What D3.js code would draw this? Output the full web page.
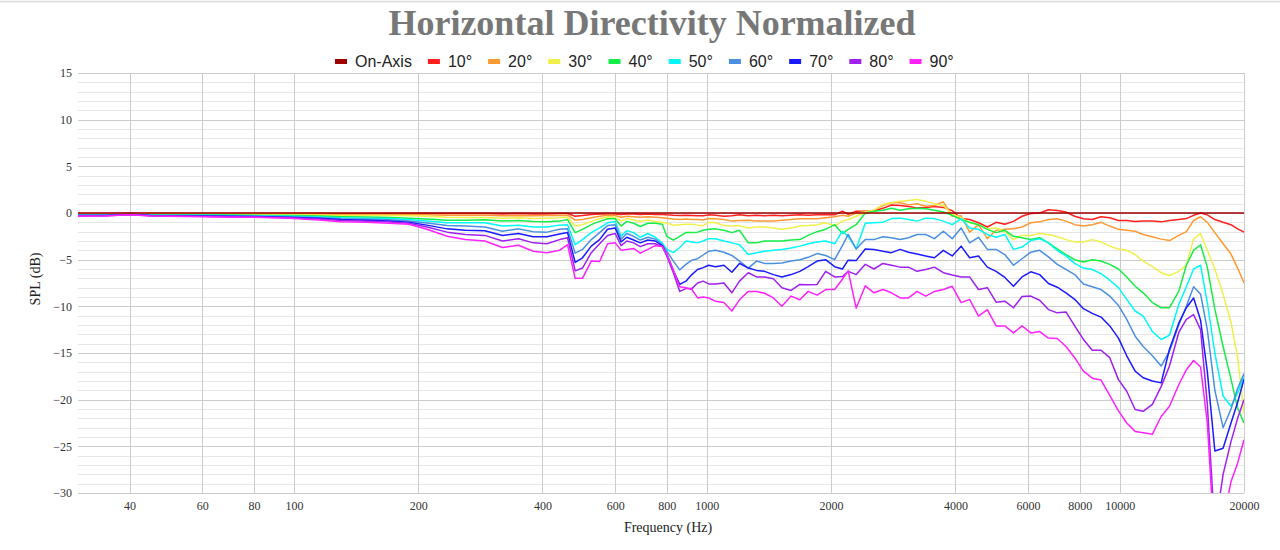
<!DOCTYPE html>
<html><head><meta charset="utf-8">
<script src="https://cdn.jsdelivr.net/npm/d3@7"></script>
<style>body{margin:0;background:#fff;} svg{display:block}</style>
</head><body>
<svg id="c" width="1280" height="550"></svg>
<script>
const freqs = [30,35,40,45,50,60,70,80,90,100,
115,130,150,170,190,210,235,260,290,320,
350,380,410,440,460,480,500,525,550,575,
600,620,640,665,690,720,750,780,800,830,
860,890,920,950,980,1010,1050,1100,1150,1200,
1260,1320,1380,1450,1520,1600,1680,1760,1850,1940,
2040,2130,2200,2300,2420,2540,2670,2800,2940,3080,
3230,3390,3560,3740,3930,4130,4330,4550,4780,5020,
5270,5530,5800,6090,6400,6720,7060,7410,7780,8170,
8580,9010,9460,9930,10400,10900,11400,12000,12600,13200,
13900,14500,15100,15700,16300,17000,17800,18600,19300,20000];

const onAxis = [0,0,0,0,0,0,0,0,0,0,
0,0,0,0,0,0,0,0,0,0,
0,0,0,0,0,0,0,0,0,0,
0,0,0,0,0,0,0,0,0,0,
0,0,0,0,0,0,0,0,0,0,
0,0,0,0,0,0,0,0,0,0,
0,0,0,0,0,0,0,0,0,0,
0,0,0,0,0,0,0,0,0,0,
0,0,0,0,0,0,0,0,0,0,
0,0,0,0,0,0,0,0,0,0,
0,0,0,0,0,0,0,0,0,0];

const deg10 = [-0.05,-0.05,-0.02,-0.05,-0.05,-0.05,-0.05,-0.05,-0.05,-0.05,
-0.06,-0.09,-0.05,-0.05,-0.05,-0.05,-0.05,-0.05,-0.05,-0.1,
-0.05,-0.1,-0.1,-0.05,-0.05,-0.35,-0.27,-0.15,-0.12,-0.1,
-0.1,-0.15,-0.1,-0.12,-0.15,-0.12,-0.15,-0.15,-0.2,-0.25,
-0.27,-0.25,-0.27,-0.3,-0.3,-0.2,-0.25,-0.35,-0.3,-0.2,
-0.3,-0.25,-0.3,-0.25,-0.3,-0.25,-0.2,-0.25,-0.2,-0.15,
-0.2,0.2,-0.15,0.2,0.2,0.25,0.5,0.85,0.8,0.7,
0.55,0.6,0.7,0.6,0.25,-0.6,-0.7,-1.05,-1.5,-1.0,
-1.2,-0.9,-0.35,-0.05,0,0.35,0.27,0.1,-0.35,-0.62,
-0.7,-0.4,-0.5,-0.8,-0.8,-0.9,-0.85,-0.87,-0.95,-0.8,
-0.7,-0.6,-0.25,0,-0.2,-0.7,-1.0,-1.25,-1.7,-2.05];

const deg20 = [-0.1,-0.1,-0.05,-0.1,-0.1,-0.1,-0.1,-0.1,-0.1,-0.12,
-0.13,-0.16,-0.15,-0.15,-0.17,-0.2,-0.23,-0.23,-0.23,-0.3,
-0.27,-0.3,-0.27,-0.27,-0.23,-0.75,-0.7,-0.5,-0.35,-0.23,
-0.27,-0.45,-0.35,-0.4,-0.45,-0.4,-0.45,-0.5,-0.55,-0.65,
-0.7,-0.65,-0.7,-0.7,-0.75,-0.6,-0.62,-0.7,-0.87,-0.8,
-0.77,-0.85,-0.87,-0.85,-0.77,-0.7,-0.62,-0.62,-0.62,-0.5,
-0.4,-0.23,-0.35,0,0.2,0.3,0.8,1.1,1.1,0.87,
1.0,0.73,0.8,1.2,-0.35,-0.3,-2.05,-1.25,-2.75,-1.85,
-1.75,-1.7,-1.5,-1.05,-0.95,-0.7,-0.62,-0.87,-1.25,-1.4,
-1.25,-1.0,-1.4,-1.75,-1.85,-1.95,-2.3,-2.55,-2.8,-2.95,
-2.4,-2.0,-0.8,-0.4,-1.0,-2.1,-3.3,-4.4,-5.9,-7.5];

const deg30 = [-0.15,-0.15,-0.08,-0.15,-0.15,-0.15,-0.15,-0.17,-0.18,-0.2,
-0.22,-0.27,-0.26,-0.27,-0.3,-0.35,-0.45,-0.48,-0.48,-0.55,
-0.52,-0.6,-0.55,-0.52,-0.45,-1.4,-1.25,-0.9,-0.62,-0.4,
-0.45,-0.85,-0.6,-0.75,-0.9,-0.75,-0.9,-1.0,-1.1,-1.3,
-1.25,-1.2,-1.2,-1.3,-1.35,-1.0,-1.05,-1.35,-1.4,-1.35,
-1.6,-1.5,-1.5,-1.6,-1.75,-1.6,-1.4,-1.35,-1.25,-1.05,
-1.4,-0.87,-0.7,-0.35,0.1,0.3,0.9,1.1,1.27,1.35,
1.45,1.27,1.0,0.8,-0.1,-0.5,-1.05,-1.25,-1.7,-1.6,
-1.95,-2.85,-2.4,-2.4,-2.2,-2.3,-2.55,-2.85,-3.1,-3.1,
-2.85,-3.1,-3.55,-3.85,-4.0,-4.45,-5.15,-5.75,-6.4,-6.7,
-6.25,-5.6,-2.8,-2.2,-4.0,-6.0,-8.7,-11.7,-15.5,-21.5];

const deg40 = [-0.2,-0.2,-0.1,-0.2,-0.2,-0.2,-0.22,-0.25,-0.27,-0.28,
-0.33,-0.4,-0.43,-0.47,-0.55,-0.65,-0.77,-0.77,-0.72,-0.87,
-0.8,-0.9,-0.95,-0.87,-0.7,-2.1,-1.75,-1.25,-0.9,-0.62,
-0.62,-1.4,-0.9,-1.1,-1.45,-1.1,-1.1,-1.2,-2.5,-2.9,
-2.5,-2.1,-2.1,-2.05,-1.85,-1.75,-1.7,-1.85,-2.1,-1.85,
-3.2,-3.2,-3.0,-3.0,-3.0,-2.9,-2.85,-2.4,-2.0,-1.75,
-1.25,-2.2,-1.75,-1.25,0,0.2,0.3,0.5,0.3,0.45,
0.5,0.45,0.3,0.1,-0.25,-0.7,-1.0,-1.25,-1.75,-2.1,
-1.85,-2.5,-2.65,-2.85,-2.65,-3.2,-3.85,-4.45,-5.0,-5.25,
-5.0,-5.15,-5.5,-6.0,-6.85,-7.85,-8.55,-9.6,-10.15,-10.15,
-8.4,-5.6,-4.0,-3.4,-5.8,-10.3,-14.3,-17.8,-20.9,-22.5];

const deg50 = [-0.22,-0.22,-0.12,-0.22,-0.25,-0.25,-0.28,-0.3,-0.33,-0.36,
-0.42,-0.52,-0.55,-0.6,-0.7,-0.86,-1.05,-1.05,-1.05,-1.4,
-1.3,-1.5,-1.5,-1.3,-1.25,-3.4,-2.85,-2.1,-1.6,-1.05,
-0.9,-2.5,-1.9,-2.1,-2.6,-2.2,-2.6,-3.2,-3.9,-4.25,
-3.7,-3.0,-3.1,-3.2,-3.0,-2.75,-2.75,-3.0,-3.2,-3.4,
-4.45,-4.25,-4.1,-4.0,-3.9,-3.75,-3.55,-3.3,-3.1,-3.0,
-3.3,-1.95,-2.5,-3.85,-1.1,-1.05,-1.0,-0.6,-0.55,-0.7,
-0.87,-0.55,-0.6,-0.87,-1.25,-0.6,-1.6,-1.75,-2.3,-2.6,
-2.3,-3.9,-3.65,-2.95,-2.75,-3.2,-4.0,-4.6,-5.4,-5.9,
-6.05,-6.5,-7.2,-8.0,-9.25,-10.5,-11.05,-12.7,-13.55,-13.1,
-9.8,-7.9,-6.0,-5.6,-9.6,-15.0,-19.6,-20.7,-19.3,-17.5];

const deg60 = [-0.25,-0.25,-0.14,-0.25,-0.27,-0.3,-0.32,-0.35,-0.38,-0.42,
-0.5,-0.62,-0.66,-0.73,-0.85,-1.08,-1.35,-1.4,-1.5,-1.95,
-1.7,-2.0,-2.05,-1.75,-1.7,-4.3,-3.9,-2.85,-2.1,-1.35,
-1.25,-2.8,-2.2,-2.5,-2.9,-2.6,-2.8,-3.4,-4.1,-5.15,
-6.1,-5.5,-5.05,-4.9,-4.5,-4.1,-4.0,-4.2,-4.55,-5.15,
-5.9,-5.15,-5.4,-5.4,-5.35,-5.15,-5.0,-4.75,-4.35,-4.55,
-5.0,-3.5,-2.3,-3.85,-2.85,-2.85,-2.55,-2.65,-2.85,-2.65,
-2.3,-2.3,-2.75,-1.95,-2.75,-1.6,-3.2,-2.6,-3.9,-3.9,
-4.45,-5.6,-4.9,-4.2,-4.0,-4.7,-5.5,-6.05,-6.6,-7.6,
-7.9,-8.2,-8.9,-9.9,-11.4,-13.2,-14.3,-15.3,-16.4,-14.8,
-12.0,-10.0,-7.9,-8.7,-12.5,-19.0,-23.0,-21.0,-18.8,-17.2];

const deg70 = [-0.28,-0.28,-0.15,-0.27,-0.3,-0.33,-0.36,-0.38,-0.43,-0.47,
-0.57,-0.7,-0.78,-0.85,-0.98,-1.3,-1.7,-1.85,-1.9,-2.4,
-2.2,-2.55,-2.55,-2.25,-2.1,-5.3,-4.8,-3.55,-2.85,-1.75,
-1.6,-3.1,-2.6,-2.9,-3.2,-2.9,-3.0,-3.5,-4.45,-6.2,
-7.65,-7.3,-6.6,-6.05,-5.85,-5.6,-5.75,-5.6,-6.35,-5.4,
-5.9,-6.15,-6.25,-6.6,-6.85,-6.6,-6.25,-5.75,-5.15,-5.0,
-5.75,-6.0,-5.05,-5.1,-3.85,-3.9,-4.1,-4.25,-3.9,-4.2,
-4.4,-4.6,-4.8,-4.0,-4.6,-3.55,-4.8,-4.6,-5.8,-6.25,
-6.9,-7.85,-6.85,-6.3,-6.6,-7.55,-7.95,-8.55,-9.25,-10.25,
-10.75,-11.15,-12.1,-13.4,-15.3,-16.95,-17.65,-18.0,-18.2,-14.6,
-11.8,-10.15,-9.1,-11.5,-17.0,-25.5,-25.2,-22.5,-20.3,-17.8];

const deg80 = [-0.3,-0.3,-0.17,-0.3,-0.33,-0.36,-0.4,-0.42,-0.48,-0.53,
-0.65,-0.8,-0.88,-0.97,-1.1,-1.5,-2.05,-2.3,-2.4,-3.0,
-2.75,-3.2,-3.3,-2.85,-2.65,-6.2,-5.9,-4.25,-3.3,-2.4,
-2.2,-3.5,-3.0,-3.2,-3.6,-3.3,-3.3,-3.6,-4.6,-6.4,
-8.4,-8.1,-8.1,-7.5,-7.3,-7.6,-7.6,-7.5,-8.55,-7.3,
-6.4,-6.85,-6.85,-7.05,-8.0,-8.3,-7.65,-7.7,-7.65,-6.25,
-6.85,-6.8,-6.25,-6.6,-5.5,-6.0,-5.4,-5.6,-5.8,-5.8,
-6.25,-6.05,-5.8,-6.4,-6.65,-6.85,-6.85,-8.2,-8.0,-9.55,
-9.45,-10.15,-8.95,-8.9,-9.35,-10.35,-10.7,-10.6,-12.1,-13.55,
-14.7,-14.7,-15.5,-17.85,-19.1,-21.05,-21.25,-20.5,-18.6,-16.4,
-12.8,-11.4,-10.9,-12.5,-20.5,-34,-28,-24.5,-22,-20];

const deg90 = [-0.35,-0.33,-0.2,-0.33,-0.36,-0.4,-0.45,-0.46,-0.52,-0.6,
-0.75,-0.95,-1.0,-1.1,-1.2,-1.75,-2.5,-2.85,-3.0,-3.7,
-3.45,-4.1,-4.25,-4.0,-3.4,-7.0,-7.0,-5.15,-5.2,-3.3,
-3.2,-4.0,-3.9,-3.8,-4.3,-3.9,-3.5,-3.6,-4.4,-6.1,
-7.9,-8.0,-8.2,-9.1,-9.0,-9.1,-9.45,-9.6,-10.5,-9.3,
-8.4,-8.4,-8.6,-9.1,-10.0,-8.9,-9.3,-8.4,-8.8,-8.2,
-8.2,-7.1,-6.2,-10.2,-7.8,-8.55,-8.2,-8.55,-9.1,-9.1,
-8.4,-8.9,-8.4,-8.2,-7.85,-9.6,-9.25,-11.05,-10.35,-12.1,
-12.1,-12.85,-12.1,-12.85,-12.7,-13.4,-13.45,-14.3,-15.5,-16.95,
-17.7,-17.9,-19.55,-21.2,-22.5,-23.4,-23.55,-23.7,-21.8,-20.7,
-18.4,-16.8,-15.8,-16.5,-22.5,-36,-33,-28.8,-26.8,-24.3];

const seriesNames = ["On-Axis","10°","20°","30°","40°","50°","60°","70°","80°","90°"];
const seriesColors = ["#a00000","#ff1f1f","#ff9933","#f0f04a","#14ee46","#00f8f8","#4a8fe0","#1a1aff","#a020f0","#ff22ff"];
const seriesValues = [onAxis,deg10,deg20,deg30,deg40,deg50,deg60,deg70,deg80,deg90];
const xTicks = [40,60,80,100,200,400,600,800,1000,2000,4000,6000,8000,10000,20000];
const yTicks = [15,10,5,0,-5,-10,-15,-20,-25,-30];
const yMinor = d3.range(-30,16,1);

const svg = d3.select("#c");
const L=78, R=1244, T=73, B=493;
const x = d3.scaleLog().domain([30,20000]).range([L,R]);
const y = d3.scaleLinear().domain([-30,15]).range([B,T]);

svg.append("line").attr("x1",0).attr("x2",1280).attr("y1",1.5).attr("y2",1.5)
  .attr("stroke","#dcdcdc").attr("stroke-width",1.5);

// gridlines
const g = svg.append("g");
g.selectAll("line.hm").data(yMinor).join("line")
  .attr("x1",L).attr("x2",R)
  .attr("y1",d=>Math.round(y(d))+0.5).attr("y2",d=>Math.round(y(d))+0.5)
  .attr("stroke",d=> d%5===0 ? "#cccccc" : "#e6e6e6").attr("stroke-width",1);
g.selectAll("line.v").data(xTicks).join("line")
  .attr("x1",d=>Math.round(x(d))+0.5).attr("x2",d=>Math.round(x(d))+0.5)
  .attr("y1",T).attr("y2",B).attr("stroke","#cccccc").attr("stroke-width",1);

// axes labels via d3 axis
const yAxis = d3.axisLeft(y).tickValues(yTicks).tickSize(0).tickPadding(6);
const ya = svg.append("g").attr("transform",`translate(${L},0)`).call(yAxis);
ya.select(".domain").remove();
ya.selectAll("text").attr("font-family","'Liberation Serif', 'Times New Roman', serif")
  .attr("font-size",12).attr("fill","#333");

const xAxis = d3.axisBottom(x).tickValues(xTicks).tickFormat(d=>String(d)).tickSize(0).tickPadding(8);
const xa = svg.append("g").attr("transform",`translate(0,${B})`).call(xAxis);
xa.select(".domain").remove();
xa.selectAll("text").attr("font-family","'Liberation Serif', 'Times New Roman', serif")
  .attr("font-size",12).attr("fill","#333");

// clip
svg.append("clipPath").attr("id","clip").append("rect")
  .attr("x",L).attr("y",T).attr("width",R-L).attr("height",B-T);

const line = d3.line().x((d,i)=>x(freqs[i])).y(d=>y(d));
const lines = svg.append("g").attr("clip-path","url(#clip)");
const order = [1,2,3,4,5,6,7,8,9,0];
order.forEach(k=>{
  lines.append("path").attr("d",line(seriesValues[k])).attr("fill","none")
    .attr("stroke",seriesColors[k]).attr("stroke-width",1.5)
    .attr("stroke-linejoin","round");
});

// title
svg.append("text").attr("x",652).attr("y",35).attr("text-anchor","middle")
  .attr("font-family","'Liberation Serif', 'Times New Roman', serif")
  .attr("font-weight","bold").attr("font-size",36).attr("fill","#777")
  .text("Horizontal Directivity Normalized");

// axis titles
svg.append("text").attr("x",668).attr("y",532).attr("text-anchor","middle")
  .attr("font-family","'Liberation Serif', 'Times New Roman', serif")
  .attr("font-size",14).attr("fill","#222").text("Frequency (Hz)");
svg.append("text").attr("transform","translate(40,279) rotate(-90)").attr("text-anchor","middle")
  .attr("font-family","'Liberation Serif', 'Times New Roman', serif")
  .attr("font-size",14).attr("fill","#222").text("SPL (dB)");

// legend
const lg = svg.append("g");
let lx = 335;
seriesNames.forEach((n,k)=>{
  lg.append("rect").attr("x",lx).attr("y",59).attr("width",12).attr("height",5).attr("fill",seriesColors[k]);
  const t = lg.append("text").attr("x",lx+20).attr("y",67)
    .attr("font-family","'Liberation Sans', Arial, sans-serif").attr("font-size",16).attr("fill","#222").text(n);
  lx += 20 + t.node().getComputedTextLength() + 16;
});
</script>
</body></html>
